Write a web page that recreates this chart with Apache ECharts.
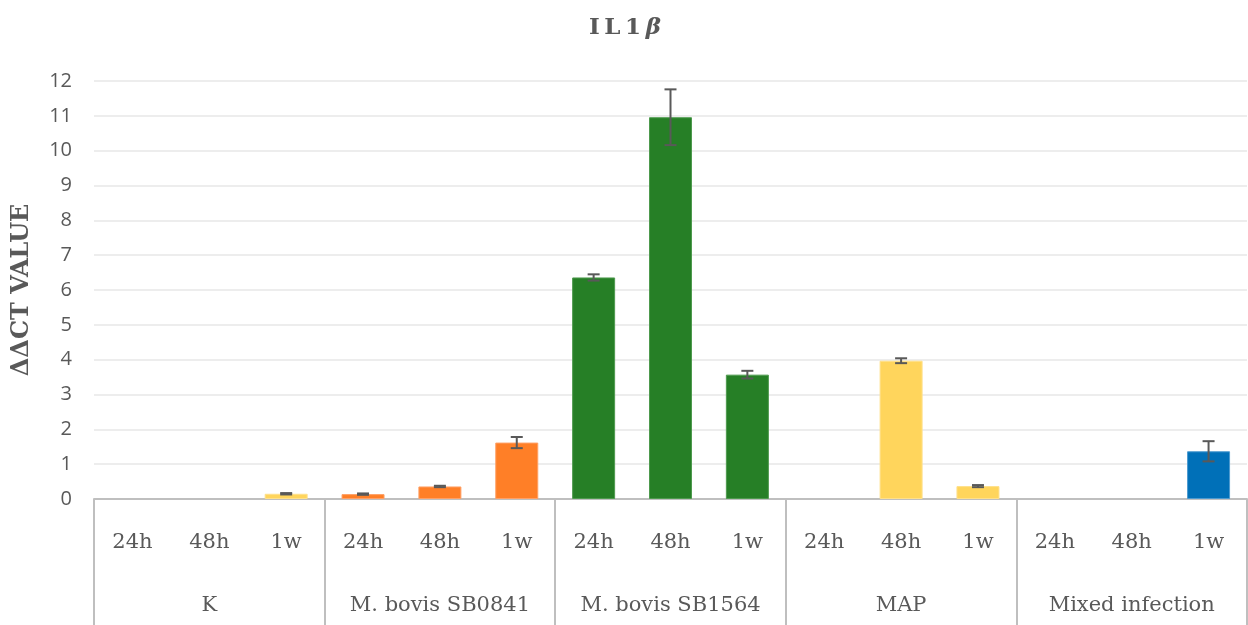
<!DOCTYPE html>
<html>
<head>
<meta charset="utf-8">
<script src="https://cdn.jsdelivr.net/npm/echarts@6/dist/echarts.min.js"></script>
<style>html,body{margin:0;padding:0;background:#fff}#c{width:1248px;height:625px}</style>
</head>
<body>
<div id="c"></div>
<script>
const timepoints = ['24h','48h','1w','24h','48h','1w','24h','48h','1w','24h','48h','1w','24h','48h','1w'];
const groups = ['K','M. bovis SB0841','M. bovis SB1564','MAP','Mixed infection'];
const values = [0, 0, 0.15, 0.14, 0.36, 1.62, 6.36, 10.96, 3.57, 0, 3.97, 0.37, 0, 0, 1.37];
const errors = [0, 0, 0.02, 0.02, 0.02, 0.16, 0.09, 0.8, 0.11, 0, 0.07, 0.03, 0, 0, 0.29];
const groupColors = ['#FFD55C','#FF7F27','#267F26','#FFD55C','#0070B8'];
const groupBorders = ['#FFE08A','#FFA066','#4E9A4E','#FFE08A','#4C9AD0'];
const yTicks = {min: 0, max: 12, interval: 1};

const barData = values.map((v, i) => ({
  value: v,
  itemStyle: {color: groupColors[Math.floor(i / 3)], borderColor: groupBorders[Math.floor(i / 3)], borderWidth: v === 0 ? 0 : 1}
}));
const errData = values.map((v, i) => [i, v, errors[i]]);

const chart = echarts.init(document.getElementById('c'), null, {renderer: 'canvas'});
chart.setOption({
  animation: false,
  title: {
    text: 'I\u2009L\u20091\u2009{b|β}',
    left: 584, top: 12,
    textStyle: {
      fontFamily: 'DejaVu Serif', fontWeight: 'bold', fontSize: 23, color: '#595959',
      rich: {b: {fontFamily: 'DejaVu Serif', fontWeight: 'bold', fontStyle: 'italic', fontSize: 23, color: '#595959'}}
    }
  },
  grid: {left: 94, right: 1, top: 81, bottom: 126, containLabel: false},
  xAxis: [
    {
      type: 'category', data: timepoints, position: 'bottom',
      axisLine: {show: true, lineStyle: {color: '#BFBFBF', width: 2}},
      axisTick: {show: false},
      axisLabel: {interval: 0, margin: 33, fontFamily: 'DejaVu Serif', fontSize: 21, color: '#595959'}
    },
    {
      type: 'category', data: groups, position: 'bottom',
      axisLine: {show: false},
      axisTick: {show: true, interval: 0, length: 126, lineStyle: {color: '#BFBFBF', width: 2}},
      axisLabel: {interval: 0, margin: 96, fontFamily: 'DejaVu Serif', fontSize: 21, color: '#595959'}
    }
  ],
  yAxis: {
    type: 'value', min: yTicks.min, max: yTicks.max, interval: yTicks.interval,
    name: 'ΔΔCT VALUE', nameLocation: 'middle', nameRotate: 90, nameGap: 60,
    nameTextStyle: {fontFamily: 'DejaVu Serif', fontWeight: 'bold', fontSize: 24, color: '#595959'},
    axisLine: {show: false}, axisTick: {show: false},
    axisLabel: {margin: 22, fontFamily: 'Open Sans', fontSize: 20, color: '#595959'},
    splitLine: {lineStyle: {color: '#EDEDED', width: 2}}
  },
  series: [
    {type: 'bar', xAxisIndex: 0, data: barData, barWidth: 43},
    {
      type: 'custom', xAxisIndex: 0, data: errData, z: 5,
      renderItem: function (params, api) {
        const x = api.coord([api.value(0), 0])[0];
        const v = api.value(1), e = api.value(2);
        if (v === 0) return null;
        const top = api.coord([api.value(0), v + e])[1];
        const bot = api.coord([api.value(0), v - e])[1];
        const s = {stroke: '#595959', lineWidth: 2};
        return {type: 'group', children: [
          {type: 'line', shape: {x1: x, y1: top, x2: x, y2: bot}, style: s},
          {type: 'line', shape: {x1: x - 6, y1: top, x2: x + 6, y2: top}, style: s},
          {type: 'line', shape: {x1: x - 6, y1: bot, x2: x + 6, y2: bot}, style: s}
        ]};
      }
    }
  ]
});
</script>
</body>
</html>
